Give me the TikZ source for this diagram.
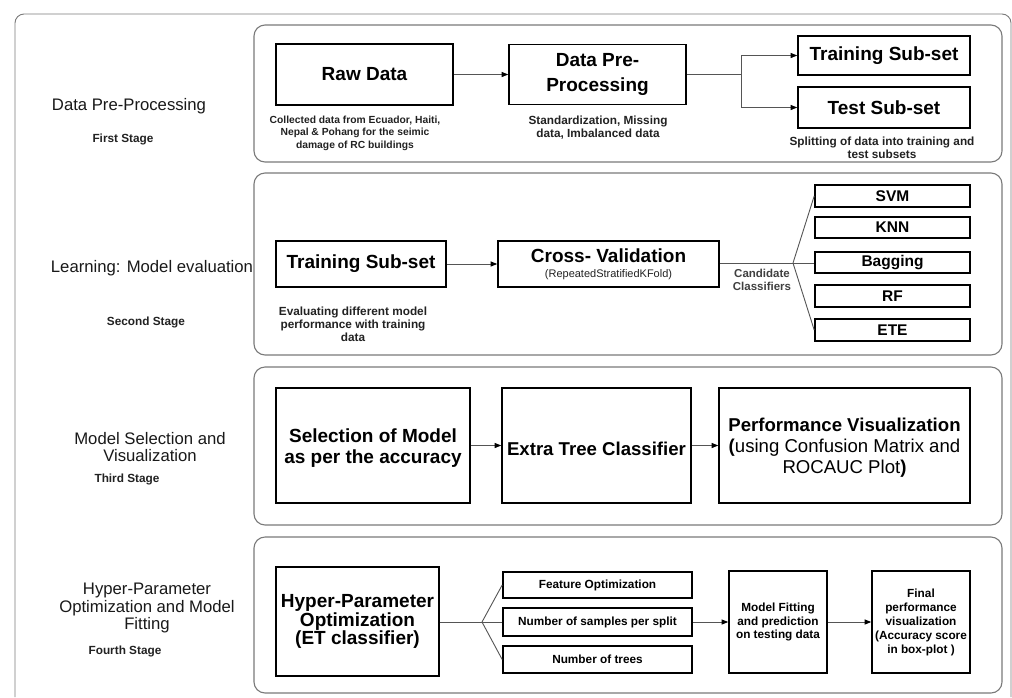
\documentclass[tikz,border=0pt]{standalone}
\usepackage{fontspec}
\setmainfont{Liberation Sans}
\usetikzlibrary{arrows.meta}
\newcommand{\myfs}[2]{\fontsize{#1pt}{#2pt}\selectfont}
\definecolor{panelgray}{HTML}{7A7A7A}
\definecolor{conngray}{HTML}{555555}
\definecolor{captxt}{HTML}{222222}
\begin{document}
\begin{tikzpicture}[x=1pt,y=-1pt,
  outer/.style={draw=panelgray, line width=0.9pt, rounded corners=9pt},
  panel/.style={draw=panelgray, line width=1.1pt, rounded corners=11pt},
  box/.style={draw=black, line width=1.6pt, fill=white, align=center, inner sep=0pt, font=\bfseries},
  conn/.style={draw=conngray, line width=0.9pt},
  arr/.style={conn, -{Triangle[length=6.5pt,width=5pt,color=black]}},
  stage/.style={align=center, inner sep=0pt, text=black!90, font=\myfs{16.7}{17.8}},
  stagesub/.style={align=center, inner sep=0pt, text=captxt, font=\bfseries\myfs{11.8}{14}},
  captext/.style={align=center, inner sep=0pt, text=captxt, font=\bfseries\myfs{11.8}{13}}
]
\useasboundingbox (0,0) rectangle (1012,697);
\fill[white] (0,0) rectangle (1012,697);

% outer frame
\draw[outer] (15,697) -- (15,14) -- (1011,14) -- (1011,697);

% panels
\draw[panel] (254,25) rectangle (1002,162);
\draw[panel] (254,173) rectangle (1002,355);
\draw[panel] (254,367) rectangle (1002,525);
\draw[panel] (254,537) rectangle (1002,693);

% stage labels
\node[stage] (s1) at (129,106) {Data Pre-Processing};
\node[stagesub] (s1b) at (123,139) {First Stage};
\node[stage] (s2) at (152,268) {Learning: Model evaluation};
\node[stagesub] (s2b) at (146,322) {Second Stage};
\node[stage] (s3) at (150,447) {Model Selection and\\Visualization};
\node[stagesub] (s3b) at (127,479) {Third Stage};
\node[stage] (s4) at (147,608) {Hyper-Parameter\\Optimization and Model\\Fitting};
\node[stagesub] (s4b) at (125,651) {Fourth Stage};

% ---- panel 1
\node[box, minimum width=177pt, minimum height=61pt, font=\bfseries\myfs{19}{24}] (raw) at (364.5,74.5) {Raw Data};
\node[captext, font=\bfseries\myfs{10.3}{12.5}] (rawc) at (355,133) {Collected data from Ecuador, Haiti,\\Nepal \& Pohang for the seimic\\damage of RC buildings};
\node[box, minimum width=177pt, minimum height=60pt, font=\bfseries\myfs{19}{25}] (dpp) at (597.5,74.5) {Data Pre-\\Processing};
\node[captext] (dppc) at (598,128) {Standardization, Missing\\data, Imbalanced data};
\node[box, minimum width=172pt, minimum height=39pt, font=\bfseries\myfs{19}{24}] (trs1) at (884,55.5) {Training Sub-set};
\node[box, minimum width=172pt, minimum height=41pt, font=\bfseries\myfs{19}{24}] (tes1) at (884,107.5) {Test Sub-set};
\node[captext, font=\bfseries\myfs{11.8}{12.5}] (tesc) at (882,148) {Splitting of data into training and\\test subsets};
\coordinate (j1) at (741,74.5);
\draw[arr] (raw) -- (dpp);
\draw[conn] (dpp.east) -- (j1);
\draw[arr] (j1) |- (trs1.west);
\draw[arr] (j1) |- (tes1.west);

% ---- panel 2
\node[box, minimum width=170pt, minimum height=46pt, font=\bfseries\myfs{19}{24}] (trs2) at (361,264) {Training Sub-set};
\node[captext] (trs2c) at (353,324) {Evaluating different model\\performance with training\\data};
\node[box, minimum width=221pt, minimum height=46pt, font=\bfseries\myfs{19}{19}] (cv) at (608.5,264) {Cross- Validation\\[-4pt]{\normalfont\myfs{11}{11}\color{captxt}(RepeatedStratifiedKFold)}};
\draw[arr] (trs2) -- (cv);
\node[box, minimum width=155pt, minimum height=22pt, font=\bfseries\myfs{15.5}{18}] (svm) at (892.5,196) {SVM};
\node[box, minimum width=155pt, minimum height=21pt, font=\bfseries\myfs{15.5}{18}] (knn) at (892.5,227.5) {KNN};
\node[box, minimum width=155pt, minimum height=21pt, font=\bfseries\myfs{15.5}{18}] (bag) at (892.5,262.5) {Bagging};
\node[box, minimum width=155pt, minimum height=22pt, font=\bfseries\myfs{15.5}{18}] (rf) at (892.5,296) {RF};
\node[box, minimum width=155pt, minimum height=22pt, font=\bfseries\myfs{15.5}{18}] (ete) at (892.5,330) {ETE};
\coordinate (j2) at (793,263);
\draw[conn] (cv.east |- j2) -- (j2);
\draw[conn] (j2) -- (svm.west);
\draw[conn] (j2) -- (bag.west |- j2);
\draw[conn] (j2) -- (ete.west);
\node[captext, font=\bfseries\myfs{11.5}{12.5}, text=black!75] (candc) at (762,280) {Candidate\\Classifiers};

% ---- panel 3
\node[box, minimum width=194pt, minimum height=115pt, font=\bfseries\myfs{19}{21}] (sel) at (373,445.5) {\raisebox{-3pt}[\height][\depth]{\begin{tabular}{@{}c@{}}Selection of Model\\as per the accuracy\end{tabular}}};
\node[box, minimum width=189pt, minimum height=115pt, font=\bfseries\myfs{18.6}{21}] (etc) at (596.5,445.5) {\raisebox{-3pt}[\height][\depth]{Extra Tree Classifier}};
\node[box, minimum width=251pt, minimum height=115pt, font=\normalfont\myfs{18.6}{21}] (perf) at (844.5,445.5) {\raisebox{-3pt}[\height][\depth]{\begin{tabular}{@{}c@{}}\textbf{Performance Visualization}\\\textbf{(}using Confusion Matrix and\\ROCAUC Plot\textbf{)}\end{tabular}}};
\draw[arr] (sel) -- (etc);
\draw[arr] (etc) -- (perf);

% ---- panel 4
\node[box, minimum width=163pt, minimum height=109pt, font=\bfseries\myfs{19}{18.8}] (hpo) at (357.5,621.5) {Hyper-Parameter\\Optimization\\(ET classifier)};
\node[box, minimum width=189pt, minimum height=26pt, font=\bfseries\myfs{11.8}{14}] (fo) at (597.5,585) {Feature Optimization};
\node[box, minimum width=189pt, minimum height=28pt, font=\bfseries\myfs{11.8}{14}] (ns) at (597.5,622) {Number of samples per split};
\node[box, minimum width=189pt, minimum height=27pt, font=\bfseries\myfs{11.8}{14}] (nt) at (597.5,659.5) {Number of trees};
\coordinate (j4) at (482,622);
\draw[conn] (hpo.east |- j4) -- (j4);
\draw[conn] (j4) -- (fo.west);
\draw[conn] (j4) -- (ns.west);
\draw[conn] (j4) -- (nt.west);
\node[box, minimum width=98pt, minimum height=102pt, font=\bfseries\myfs{11.8}{13.5}] (mf) at (778,622) {Model Fitting\\and prediction\\on testing data};
\node[box, minimum width=98pt, minimum height=102pt, font=\bfseries\myfs{11.8}{14}] (fin) at (921,622) {Final\\performance\\visualization\\(Accuracy score\\in box-plot )};
\draw[arr] (ns) -- (mf);
\draw[arr] (mf) -- (fin);
\end{tikzpicture}
\end{document}
